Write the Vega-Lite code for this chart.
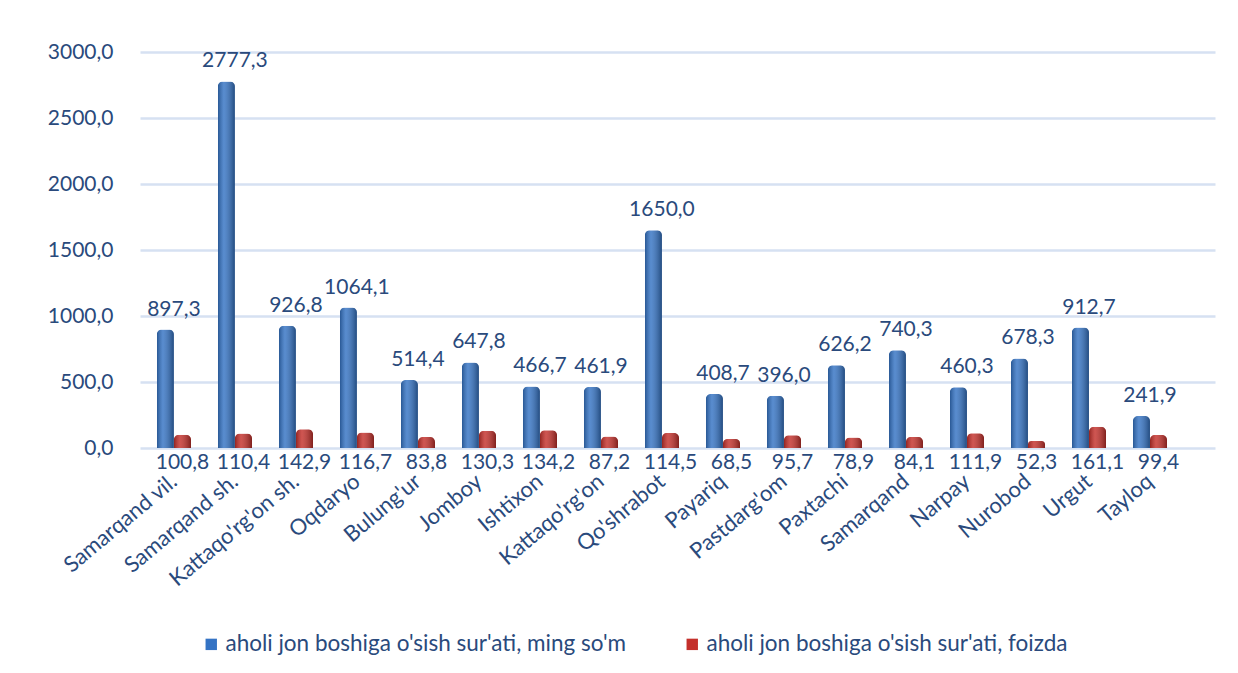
{
  "$schema": "https://vega.github.io/schema/vega-lite/v6.json",
  "autosize": "none",
  "width": 1075,
  "height": 396,
  "padding": {"left": 140, "top": 52, "right": 23, "bottom": 225},
  "background": "white",
  "config": {
    "locale": {"number": {"decimal": ",", "thousands": " ", "grouping": [3], "currency": ["", ""]}},
    "font": "Lato",
    "view": {"stroke": null}
  },
  "data": {"values": [
    {"region": "Samarqand vil.", "series": "aholi jon boshiga o'sish sur'ati, ming so'm", "value": 897.3},
    {"region": "Samarqand sh.", "series": "aholi jon boshiga o'sish sur'ati, ming so'm", "value": 2777.3},
    {"region": "Kattaqo'rg'on sh.", "series": "aholi jon boshiga o'sish sur'ati, ming so'm", "value": 926.8},
    {"region": "Oqdaryo", "series": "aholi jon boshiga o'sish sur'ati, ming so'm", "value": 1064.1},
    {"region": "Bulung'ur", "series": "aholi jon boshiga o'sish sur'ati, ming so'm", "value": 514.4},
    {"region": "Jomboy", "series": "aholi jon boshiga o'sish sur'ati, ming so'm", "value": 647.8},
    {"region": "Ishtixon", "series": "aholi jon boshiga o'sish sur'ati, ming so'm", "value": 466.7},
    {"region": "Kattaqo'rg'on", "series": "aholi jon boshiga o'sish sur'ati, ming so'm", "value": 461.9},
    {"region": "Qo'shrabot", "series": "aholi jon boshiga o'sish sur'ati, ming so'm", "value": 1650.0},
    {"region": "Payariq", "series": "aholi jon boshiga o'sish sur'ati, ming so'm", "value": 408.7},
    {"region": "Pastdarg'om", "series": "aholi jon boshiga o'sish sur'ati, ming so'm", "value": 396.0},
    {"region": "Paxtachi", "series": "aholi jon boshiga o'sish sur'ati, ming so'm", "value": 626.2},
    {"region": "Samarqand", "series": "aholi jon boshiga o'sish sur'ati, ming so'm", "value": 740.3},
    {"region": "Narpay", "series": "aholi jon boshiga o'sish sur'ati, ming so'm", "value": 460.3},
    {"region": "Nurobod", "series": "aholi jon boshiga o'sish sur'ati, ming so'm", "value": 678.3},
    {"region": "Urgut", "series": "aholi jon boshiga o'sish sur'ati, ming so'm", "value": 912.7},
    {"region": "Tayloq", "series": "aholi jon boshiga o'sish sur'ati, ming so'm", "value": 241.9},
    {"region": "Samarqand vil.", "series": "aholi jon boshiga o'sish sur'ati, foizda", "value": 100.8},
    {"region": "Samarqand sh.", "series": "aholi jon boshiga o'sish sur'ati, foizda", "value": 110.4},
    {"region": "Kattaqo'rg'on sh.", "series": "aholi jon boshiga o'sish sur'ati, foizda", "value": 142.9},
    {"region": "Oqdaryo", "series": "aholi jon boshiga o'sish sur'ati, foizda", "value": 116.7},
    {"region": "Bulung'ur", "series": "aholi jon boshiga o'sish sur'ati, foizda", "value": 83.8},
    {"region": "Jomboy", "series": "aholi jon boshiga o'sish sur'ati, foizda", "value": 130.3},
    {"region": "Ishtixon", "series": "aholi jon boshiga o'sish sur'ati, foizda", "value": 134.2},
    {"region": "Kattaqo'rg'on", "series": "aholi jon boshiga o'sish sur'ati, foizda", "value": 87.2},
    {"region": "Qo'shrabot", "series": "aholi jon boshiga o'sish sur'ati, foizda", "value": 114.5},
    {"region": "Payariq", "series": "aholi jon boshiga o'sish sur'ati, foizda", "value": 68.5},
    {"region": "Pastdarg'om", "series": "aholi jon boshiga o'sish sur'ati, foizda", "value": 95.7},
    {"region": "Paxtachi", "series": "aholi jon boshiga o'sish sur'ati, foizda", "value": 78.9},
    {"region": "Samarqand", "series": "aholi jon boshiga o'sish sur'ati, foizda", "value": 84.1},
    {"region": "Narpay", "series": "aholi jon boshiga o'sish sur'ati, foizda", "value": 111.9},
    {"region": "Nurobod", "series": "aholi jon boshiga o'sish sur'ati, foizda", "value": 52.3},
    {"region": "Urgut", "series": "aholi jon boshiga o'sish sur'ati, foizda", "value": 161.1},
    {"region": "Tayloq", "series": "aholi jon boshiga o'sish sur'ati, foizda", "value": 99.4}
  ]},
  "encoding": {
    "x": {
      "field": "region", "type": "nominal", "sort": null,
      "scale": {"paddingInner": 0.44, "paddingOuter": 0.531, "align": 0.26},
      "axis": {
        "title": null, "labelAngle": -40, "labelAlign": "right", "labelBaseline": "middle",
        "labelFontSize": 22, "labelColor": "#2A4A7C", "labelPadding": 30,
        "domain": false, "ticks": false, "grid": false, "labelFont": "Lato", "labelLimit": 300
      }
    }
  },
  "layer": [
    {
      "mark": {"type": "bar", "cornerRadiusTopLeft": 5, "cornerRadiusTopRight": 5},
      "encoding": {
        "xOffset": {"field": "series", "type": "nominal", "sort": null},
        "y": {
          "field": "value", "type": "quantitative",
          "scale": {"domain": [0, 3000], "nice": false},
          "axis": {
            "title": null, "values": [0, 500, 1000, 1500, 2000, 2500, 3000], "format": ".1f",
            "labelFontSize": 21, "labelColor": "#2A4A7C", "labelPadding": 27,
            "domain": false, "ticks": false, "gridColor": "#D6E1F2", "gridWidth": 2.5
          }
        },
        "color": {
          "field": "series", "type": "nominal", "sort": null,
          "scale": {"range": ["#3473C4", "#C4302B"]},
          "legend": {
            "title": null, "orient": "none", "direction": "horizontal",
            "legendX": 60, "legendY": 581,
            "symbolType": "square", "symbolSize": 130, "symbolStrokeWidth": 0,
            "labelFontSize": 22.5, "labelColor": "#2A4A7C", "labelFont": "Lato",
            "labelLimit": 700, "columnPadding": 54, "labelOffset": 3
          }
        }
      }
    },
    {
      "mark": {
        "type": "bar", "cornerRadiusTopLeft": 5, "cornerRadiusTopRight": 5,
        "color": {
          "x1": 0, "x2": 1, "y1": 0, "y2": 0, "gradient": "linear",
          "stops": [
            {"offset": 0, "color": "rgba(0,0,0,0.25)"},
            {"offset": 0.35, "color": "rgba(255,255,255,0.18)"},
            {"offset": 1, "color": "rgba(0,0,0,0.35)"}
          ]
        }
      },
      "encoding": {
        "xOffset": {"field": "series", "type": "nominal", "sort": null},
        "y": {"field": "value", "type": "quantitative"}
      }
    },
    {
      "transform": [{"filter": "datum.series === \"aholi jon boshiga o'sish sur'ati, ming so'm\""}],
      "mark": {"type": "text", "baseline": "bottom", "dy": -10, "fontSize": 21, "color": "#2A4A7C"},
      "encoding": {
        "y": {"field": "value", "type": "quantitative"},
        "text": {"field": "value", "type": "quantitative", "format": ".1f"}
      }
    },
    {
      "transform": [{"filter": "datum.series === \"aholi jon boshiga o'sish sur'ati, foizda\""}],
      "mark": {"type": "text", "baseline": "top", "dy": 4, "fontSize": 21, "color": "#2A4A7C"},
      "encoding": {
        "xOffset": {"field": "series", "type": "nominal", "scale": {"domain": ["aholi jon boshiga o'sish sur'ati, ming so'm", "aholi jon boshiga o'sish sur'ati, foizda"]}},
        "y": {"datum": 0, "type": "quantitative"},
        "text": {"field": "value", "type": "quantitative", "format": ".1f"}
      }
    }
  ]
}
